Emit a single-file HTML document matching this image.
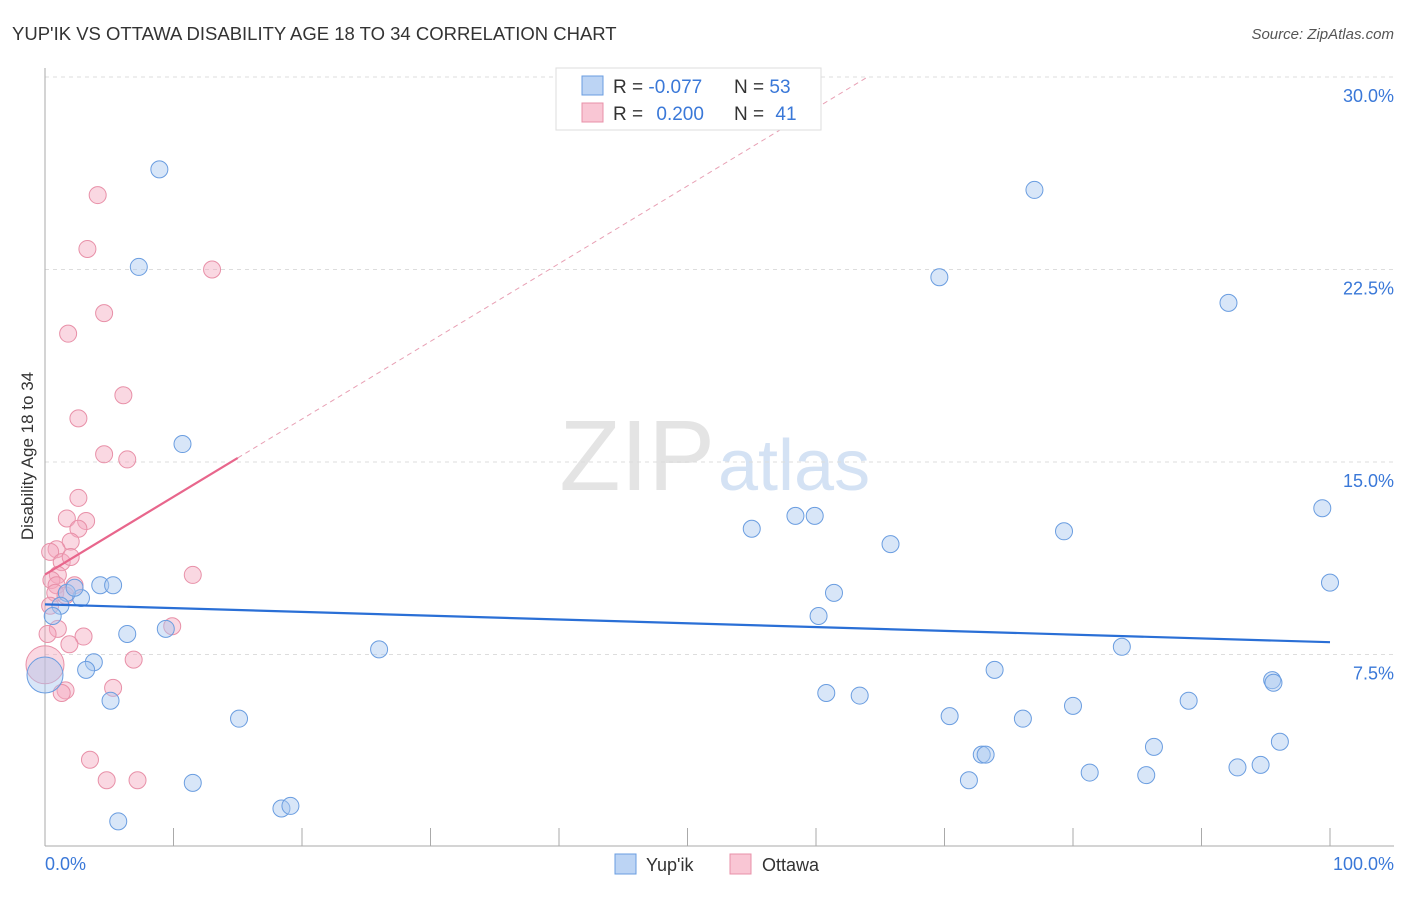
<!DOCTYPE html>
<html><head><meta charset="utf-8"><style>
body{margin:0;background:#fff;font-family:"Liberation Sans",sans-serif;}
svg text{font-family:"Liberation Sans",sans-serif;}
</style></head><body>
<svg id="chart" width="1406" height="892">
<text x="12" y="40" font-size="18.5" fill="#333">YUP'IK VS OTTAWA DISABILITY AGE 18 TO 34 CORRELATION CHART</text>
<text x="1394" y="39" font-size="15" fill="#555" text-anchor="end" font-style="italic">Source: ZipAtlas.com</text>
<text x="715" y="490" font-size="100" fill="#e4e4e4" text-anchor="end" font-family="Liberation Serif">ZIP</text>
<text x="718" y="490" font-size="72" fill="#d4e2f4">atlas</text>
<g id="grid"></g><g id="axes"></g><g id="marks"></g>
<text transform="translate(33,456) rotate(-90)" font-size="17" fill="#333" text-anchor="middle">Disability Age 18 to 34</text>
<text x="45" y="870" font-size="18" fill="#3a78d8">0.0%</text>
<text x="1394" y="870" font-size="18" fill="#3a78d8" text-anchor="end">100.0%</text>
<g>
<rect x="556" y="68" width="265" height="62" fill="#fff" stroke="#ddd"/>
<rect x="582" y="76" width="21" height="19" fill="#bcd4f4" stroke="#6a9de0"/>
<rect x="582" y="103" width="21" height="19" fill="#f9c6d4" stroke="#e890a8"/>
<text x="613" y="93" font-size="19" fill="#333">R = <tspan fill="#3a78d8">-0.077</tspan></text>
<text x="734" y="93" font-size="19" fill="#333">N = <tspan fill="#3a78d8">53</tspan></text>
<text x="613" y="120" font-size="19" fill="#333">R = <tspan fill="#3a78d8" dx="8">0.200</tspan></text>
<text x="734" y="120" font-size="19" fill="#333">N = <tspan fill="#3a78d8" dx="6">41</tspan></text>
</g>
<g>
<rect x="615" y="854" width="21" height="20" fill="#bcd4f4" stroke="#6a9de0"/>
<text x="646" y="871" font-size="18" fill="#333">Yup'ik</text>
<rect x="730" y="854" width="21" height="20" fill="#f9c6d4" stroke="#e890a8"/>
<text x="762" y="871" font-size="18" fill="#333">Ottawa</text>
</g>
</svg>
<script>
const yTicks=[7.5,15,22.5,30];
const xTickCount=10;
const blueX=[8.9,7.3,10.7,4.3,5.3,2.8,1.7,2.3,1.2,0.6,6.4,9.4,3.8,3.2,5.1,15.1,11.5,5.7,18.4,19.1,26.0,55.0,58.4,59.9,65.8,61.4,60.2,60.8,63.4,73.9,70.4,76.1,72.9,73.2,71.9,80.0,81.3,83.8,85.7,86.3,89.0,92.8,94.6,95.5,95.6,96.1,99.4,100,77.0,69.6,92.1,79.3];
const blueY=[26.4,22.6,15.7,10.2,10.2,9.7,9.9,10.1,9.4,9.0,8.3,8.5,7.2,6.9,5.7,5.0,2.5,1.0,1.5,1.6,7.7,12.4,12.9,12.9,11.8,9.9,9.0,6.0,5.9,6.9,5.1,5.0,3.6,3.6,2.6,5.5,2.9,7.8,2.8,3.9,5.7,3.1,3.2,6.5,6.4,4.1,13.2,10.3,25.6,22.2,21.2,12.3];
const pinkX=[4.1,3.3,13.0,4.6,1.8,6.1,2.6,4.6,6.4,2.6,1.7,3.2,2.6,2.0,0.9,0.4,1.3,2.0,1.0,0.5,11.5,0.9,2.3,0.8,1.6,0.4,1.0,3.0,0.2,1.9,9.9,6.9,5.3,1.6,1.3,3.5,4.8,7.2];
const pinkY=[25.4,23.3,22.5,20.8,20.0,17.6,16.7,15.3,15.1,13.6,12.8,12.7,12.4,11.9,11.6,11.5,11.1,11.3,10.6,10.4,10.6,10.2,10.2,9.9,9.8,9.4,8.5,8.2,8.3,7.9,8.6,7.3,6.2,6.1,6.0,3.4,2.6,2.6];
const bigBlueY=[6.7];
const bigPinkY=[7.1];
const sx=v=>45+v*12.85, sy=v=>847-v*192.5/7.5;
const NS="http://www.w3.org/2000/svg";
function mk(t,a,p){const e=document.createElementNS(NS,t);for(const k in a)e.setAttribute(k,a[k]);p.appendChild(e);return e;}
const grid=document.getElementById('grid'),axes=document.getElementById('axes'),marks=document.getElementById('marks');
yTicks.forEach(t=>{
 const l=mk('line',{x1:45,x2:1394,y1:sy(t),y2:sy(t),stroke:'#ddd','stroke-dasharray':'4,4'},grid);
 
 
 const tx=mk('text',{x:1394,y:sy(t)+25,'font-size':18,fill:'#3a78d8','text-anchor':'end'},grid);
 tx.textContent=t.toFixed(1)+'%';
 
 
});
mk('line',{x1:45,x2:45,y1:68,y2:846,stroke:'#aaa'},axes);
mk('line',{x1:45,x2:1394,y1:846,y2:846,stroke:'#aaa'},axes);
for(let i=0;i<=xTickCount;i++){const x=sx(i*100/xTickCount);
 const t=mk('line',{x1:x,x2:x,y1:828,y2:846,stroke:'#aaa'},axes);
 
 }
function fit(X,Y){const n=X.length;let mx=0,my=0;for(let i=0;i<n;i++){mx+=X[i];my+=Y[i];}mx/=n;my/=n;let a=0,b=0;for(let i=0;i<n;i++){a+=(X[i]-mx)*(Y[i]-my);b+=(X[i]-mx)**2;}const s=a/b;return [s,my-s*mx];}
function dots(X,Y,fill,stroke,name,r){X.forEach((x,i)=>{
 const c=mk('circle',{cx:sx(x),cy:sy(Y[i]),r:r,fill:fill,'fill-opacity':0.45,stroke:stroke,'stroke-width':1},marks);
 
 });}
dots([0],bigPinkY,'#f4a8bf','#e890a8','ottawa-point-large',19);
dots(pinkX,pinkY,'#f4a8bf','#e890a8','ottawa-point',8.5);
dots([0],bigBlueY,'#a8c8f0','#6a9de0','yupik-point-large',18);
dots(blueX,blueY,'#a8c8f0','#6a9de0','yupik-point',8.5);
let [bs,bi]=fit(blueX,blueY);
const bl=mk('line',{x1:sx(0),y1:sy(bi),x2:sx(100),y2:sy(bi+bs*100),stroke:'#2a6fd6','stroke-width':2.2},marks);


let [ps,pi]=fit(pinkX,pinkY);
const pmax=Math.max(...pinkX)+2;
const pl=mk('line',{x1:sx(0),y1:sy(pi),x2:sx(pmax),y2:sy(pi+ps*pmax),stroke:'#e8668c','stroke-width':2.2},marks);


const xe=ps>0?Math.min(100,(30-pi)/ps):100;
const pd=mk('line',{x1:sx(pmax),y1:sy(pi+ps*pmax),x2:sx(xe),y2:sy(pi+ps*xe),stroke:'#e8a0b4','stroke-width':1,'stroke-dasharray':'5,4'},marks);


</script>
</body></html>
